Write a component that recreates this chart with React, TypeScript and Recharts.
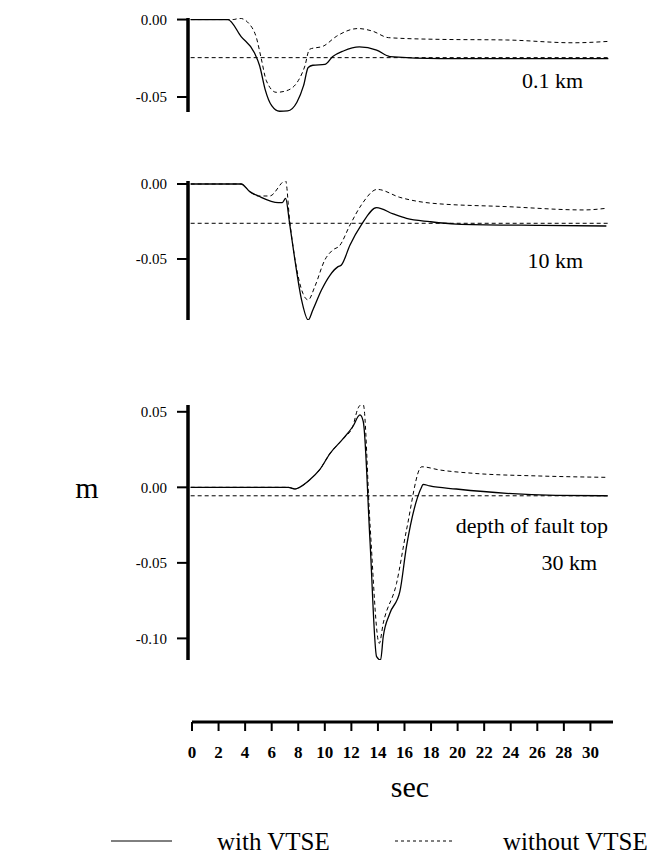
import React from "react";
import { LineChart, Line, XAxis, YAxis, ReferenceLine } from "recharts";

const FONT = '"Liberation Serif", "Times New Roman", serif';

// depth of fault top 0.1 km
const p1WithT = [0, 2.8, 3.8, 4.8, 5.2, 5.6, 6.1, 6.7, 7.3, 8.0, 8.5, 8.85, 9.2, 10.1, 10.7, 11.5, 12.7, 14.0, 15.0, 18.8, 31.45];
const p1WithV = [0, 0, -0.011, -0.0214, -0.03, -0.0449, -0.0556, -0.0592, -0.059, -0.0534, -0.0427, -0.031, -0.0295, -0.029, -0.0239, -0.0203, -0.0177, -0.0197, -0.0239, -0.0252, -0.0252];
const p1WithoutT = [0, 3.2, 3.7, 4.45, 4.95, 5.3, 5.7, 6.45, 7.2, 8.1, 8.6, 8.95, 10.0, 11.0, 12.6, 13.7, 14.9, 18.8, 23.8, 28.8, 31.45];
const p1WithoutV = [0, 0, 0.0008, -0.0032, -0.0117, -0.0246, -0.0395, -0.047, -0.046, -0.0395, -0.03, -0.0192, -0.0171, -0.0107, -0.0058, -0.0075, -0.0117, -0.0128, -0.0132, -0.015, -0.0141];
const p1Static = -0.0246;

// 10 km
const p2WithT = [0, 3.8, 4.45, 5.1, 6.6, 6.9, 7.15, 7.45, 7.85, 8.35, 8.85, 9.2, 9.85, 10.5, 11.1, 11.35, 12.0, 12.85, 14.0, 15.25, 16.25, 18.0, 20.0, 26.3, 31.3];
const p2WithV = [0, 0, -0.0051, -0.008, -0.0124, -0.0124, -0.0096, -0.0262, -0.0507, -0.0773, -0.0907, -0.084, -0.0707, -0.0607, -0.0551, -0.054, -0.0407, -0.0273, -0.0158, -0.02, -0.0229, -0.0251, -0.0267, -0.0276, -0.028];
const p2WithoutT = [0, 3.8, 4.45, 5.1, 5.95, 7.15, 7.45, 7.95, 8.45, 8.85, 9.35, 10.1, 10.7, 11.2, 12.0, 12.85, 14.05, 15.75, 18.25, 23.8, 29.6, 31.3];
const p2WithoutV = [0, 0, -0.0051, -0.008, -0.008, 0.0022, -0.024, -0.0551, -0.0729, -0.0773, -0.0684, -0.0507, -0.044, -0.0413, -0.0273, -0.014, -0.0036, -0.0089, -0.0129, -0.0151, -0.0173, -0.0162];
const p2Static = -0.0262;

// 30 km
const p3WithT = [0, 7.35, 7.85, 8.2, 8.95, 9.7, 10.5, 11.5, 12.2, 12.75, 13.0, 13.5, 14.0, 14.3, 14.5, 15.0, 15.75, 16.25, 17.4, 17.5, 18.0, 20.0, 23.8, 27.5, 31.4];
const p3WithV = [0, 0, -0.0011, 0, 0.0048, 0.0115, 0.0225, 0.0324, 0.0401, 0.0479, 0.0434, -0.0349, -0.1121, -0.1143, -0.0989, -0.0834, -0.0691, -0.0393, 0.0004, 0.002, 0.0009, -0.0011, -0.004, -0.0053, -0.0056];
const p3WithoutT = [0, 7.35, 7.85, 8.2, 8.95, 9.7, 10.5, 11.5, 12.2, 12.6, 12.8, 13.0, 13.5, 14.2, 14.5, 15.5, 16.25, 17.4, 18.75, 21.25, 26.3, 31.4];
const p3WithoutV = [0, 0, -0.0011, 0, 0.0048, 0.0115, 0.0225, 0.0324, 0.0401, 0.0523, 0.0545, 0.0545, -0.0238, -0.1033, -0.09, -0.0636, -0.0283, 0.0136, 0.0115, 0.0093, 0.0075, 0.0066];
const p3Static = -0.0056;

const yTicksShallow = [0, -0.05];
const yTicksDeep = [0.05, 0, -0.05, -0.1];
const xTicks = [0, 2, 4, 6, 8, 10, 12, 14, 16, 18, 20, 22, 24, 26, 28, 30];

const legendItems = [
  { label: "with VTSE", dash: undefined as string | undefined },
  { label: "without VTSE", dash: "3 3" },
];

const zip = (t: number[], v: number[]) => t.map((x, i) => ({ t: x, v: v[i] }));

type PanelProps = {
  top: number;
  height: number;
  marginTop: number;
  domain: [number, number];
  ticks: number[];
  withT: number[];
  withV: number[];
  withoutT: number[];
  withoutV: number[];
  offset: number;
};

const Panel = (p: PanelProps) => (
  <div style={{ position: "absolute", left: 0, top: p.top }}>
    <LineChart width={647} height={p.height} margin={{ top: p.marginTop, right: 34, bottom: 0, left: 118 }}>
      <XAxis type="number" dataKey="t" domain={[-0.2, 31.8]} hide allowDataOverflow />
      <YAxis
        type="number"
        domain={p.domain}
        ticks={p.ticks}
        interval={0}
        allowDataOverflow
        width={70}
        axisLine={{ stroke: "#000", strokeWidth: 3.5 }}
        tickLine={{ stroke: "#000", strokeWidth: 2 }}
        tickSize={11}
        tickMargin={10}
        tick={{ fill: "#000", fontSize: 15, fontFamily: FONT }}
        tickFormatter={(v: number) => v.toFixed(2)}
      />
      <ReferenceLine
        segment={[{ x: 0, y: p.offset }, { x: 31.4, y: p.offset }]}
        stroke="#000"
        strokeWidth={1}
        strokeDasharray="4 3"
      />
      <Line
        data={zip(p.withoutT, p.withoutV)}
        dataKey="v"
        type="monotone"
        stroke="#000"
        strokeWidth={1}
        strokeDasharray="4 3"
        dot={false}
        isAnimationActive={false}
      />
      <Line
        data={zip(p.withT, p.withV)}
        dataKey="v"
        type="monotone"
        stroke="#000"
        strokeWidth={1.3}
        dot={false}
        isAnimationActive={false}
      />
    </LineChart>
  </div>
);

export default function App() {
  return (
    <div style={{ position: "absolute", left: 0, top: 0, width: 647, height: 854, background: "#fff", fontFamily: FONT }}>
      <Panel top={0} height={112} marginTop={18} domain={[-0.0597, 0.001]} ticks={yTicksShallow}
        withT={p1WithT} withV={p1WithV} withoutT={p1WithoutT} withoutV={p1WithoutV} offset={p1Static} />
      <Panel top={170} height={150} marginTop={11} domain={[-0.0907, 0.002]} ticks={yTicksShallow}
        withT={p2WithT} withV={p2WithV} withoutT={p2WithoutT} withoutV={p2WithoutV} offset={p2Static} />
      <Panel top={395} height={265} marginTop={10} domain={[-0.1143, 0.0545]} ticks={yTicksDeep}
        withT={p3WithT} withV={p3WithV} withoutT={p3WithoutT} withoutV={p3WithoutV} offset={p3Static} />

      <div style={{ position: "absolute", left: 0, top: 701 }}>
        <LineChart width={647} height={80} margin={{ top: 0, right: 34, bottom: 0, left: 192 }} data={xTicks.map((t) => ({ t }))}>
          <XAxis
            type="number"
            dataKey="t"
            domain={[0, 31.7]}
            ticks={xTicks}
            interval={0}
            height={59}
            axisLine={{ stroke: "#000", strokeWidth: 3 }}
            tickLine={{ stroke: "#000", strokeWidth: 2 }}
            tickSize={9}
            tickMargin={15}
            tick={{ fill: "#000", fontSize: 17, fontWeight: "bold", fontFamily: FONT }}
          />
        </LineChart>
      </div>

      <svg width={647} height={854} style={{ position: "absolute", left: 0, top: 0, pointerEvents: "none" }}>
        <g fontFamily={FONT} fill="#000">
          <text x={583} y={88} fontSize={22} textAnchor="end">0.1 km</text>
          <text x={583} y={268} fontSize={22} textAnchor="end">10 km</text>
          <text x={608} y={533} fontSize={22} textAnchor="end">depth of fault top</text>
          <text x={597} y={570} fontSize={22} textAnchor="end">30 km</text>
          <text x={87} y={498} fontSize={30} textAnchor="middle">m</text>
          <text x={410} y={797} fontSize={30} textAnchor="middle">sec</text>
          {legendItems.map((it, i) => (
            <g key={it.label}>
              <line x1={i === 0 ? 111 : 395} x2={i === 0 ? 172 : 455} y1={841} y2={841} stroke="#000" strokeWidth={1} strokeDasharray={it.dash} />
              <text x={i === 0 ? 217 : 503} y={850} fontSize={25}>{it.label}</text>
            </g>
          ))}
        </g>
      </svg>
    </div>
  );
}
